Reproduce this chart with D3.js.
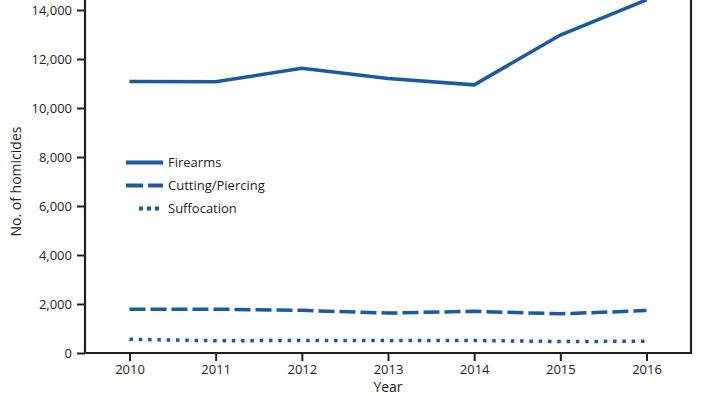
<!DOCTYPE html>
<html lang="en">
<head>
    <meta charset="UTF-8">
    <title>Homicides by mechanism</title>
    <style>
        body { margin: 0; background: #fff; }
        text { font-family: "Open Sans", "Noto Sans", sans-serif; fill: #231f20; }
    </style>
</head>
<body>
<div id="chart"></div>
<script src="https://cdn.jsdelivr.net/npm/d3@7"></script>
<script>
    const width = 704,
        height = 396;

    // data
    const years = [2010, 2011, 2012, 2013, 2014, 2015, 2016];
    const firearms = [11078, 11068, 11622, 11208, 10945, 12979, 14415];
    const cutting = [1790, 1790, 1740, 1630, 1700, 1600, 1730];
    const suffocation = [560, 500, 510, 505, 510, 470, 480];
    const yTicks = [0, 2000, 4000, 6000, 8000, 10000, 12000, 14000];
    const seriesNames = ["Firearms", "Cutting/Piercing", "Suffocation"];

    const blue = "#1a5aa2",
        ink = "#231f20";

    const plot = {left: 85, right: 691, bottom: 353};

    const xScale = d3.scalePoint().domain(years).range([129.5, 646.5]);
    const yScale = d3.scaleLinear().domain([0, 14000]).range([plot.bottom, 10]);

    const svg = d3.select("#chart")
        .append("svg")
        .attr("width", width)
        .attr("height", height);

    // frame: left, bottom, right
    svg.append("path")
        .attr("d", `M${plot.left},-5V${plot.bottom}H${plot.right}V-5`)
        .style("fill", "none")
        .style("stroke", ink)
        .style("stroke-width", 2.2);

    const yAxis = d3.axisLeft(yScale)
        .tickValues(yTicks)
        .tickSize(8)
        .tickPadding(5)
        .tickFormat(d3.format(","));

    svg.append("g")
        .attr("transform", `translate(${plot.left},0)`)
        .call(yAxis)
        .call(g => g.select(".domain").remove())
        .call(g => g.selectAll("line").style("stroke", ink).style("stroke-width", 2))
        .call(g => g.selectAll("text").style("font-size", "13px").style("fill", ink));

    const xAxis = d3.axisBottom(xScale)
        .tickSize(8)
        .tickPadding(4)
        .tickFormat(d => d);

    svg.append("g")
        .attr("transform", `translate(0,${plot.bottom})`)
        .call(xAxis)
        .call(g => g.select(".domain").remove())
        .call(g => g.selectAll("line").style("stroke", ink).style("stroke-width", 2))
        .call(g => g.selectAll("text").style("font-size", "13px").style("fill", ink));

    svg.append("text")
        .attr("x", (plot.left + plot.right) / 2)
        .attr("y", 392)
        .attr("text-anchor", "middle")
        .style("font-size", "14px")
        .text("Year");

    svg.append("text")
        .attr("transform", `translate(21,${(plot.bottom + 10) / 2}) rotate(-90)`)
        .attr("text-anchor", "middle")
        .style("font-size", "14px")
        .text("No. of homicides");

    const line = d3.line()
        .x((d, i) => xScale(years[i]))
        .y(d => yScale(d));

    const series = [
        {name: seriesNames[0], values: firearms, dash: null},
        {name: seriesNames[1], values: cutting, dash: "16,5"},
        {name: seriesNames[2], values: suffocation, dash: "3.5,5.8"}
    ];

    svg.append("g")
        .selectAll("path")
        .data(series)
        .join("path")
        .attr("d", d => line(d.values))
        .style("fill", "none")
        .style("stroke", blue)
        .style("stroke-width", 3.5)
        .style("stroke-dasharray", d => d.dash);

    // legend
    const legendDash = [null, "17,5", "4,4"];
    const legendStart = [126, 126, 139];
    const legend = svg.append("g")
        .selectAll("g")
        .data(series)
        .join("g")
        .attr("transform", (d, i) => `translate(0,${162.5 + i * 23})`);

    legend.append("line")
        .attr("x1", (d, i) => legendStart[i])
        .attr("x2", 163)
        .style("stroke", blue)
        .style("stroke-width", 4)
        .style("stroke-dasharray", (d, i) => legendDash[i]);

    legend.append("text")
        .attr("x", 168)
        .attr("y", 4.5)
        .style("font-size", "13px")
        .text(d => d.name);
</script>
</body>
</html>
